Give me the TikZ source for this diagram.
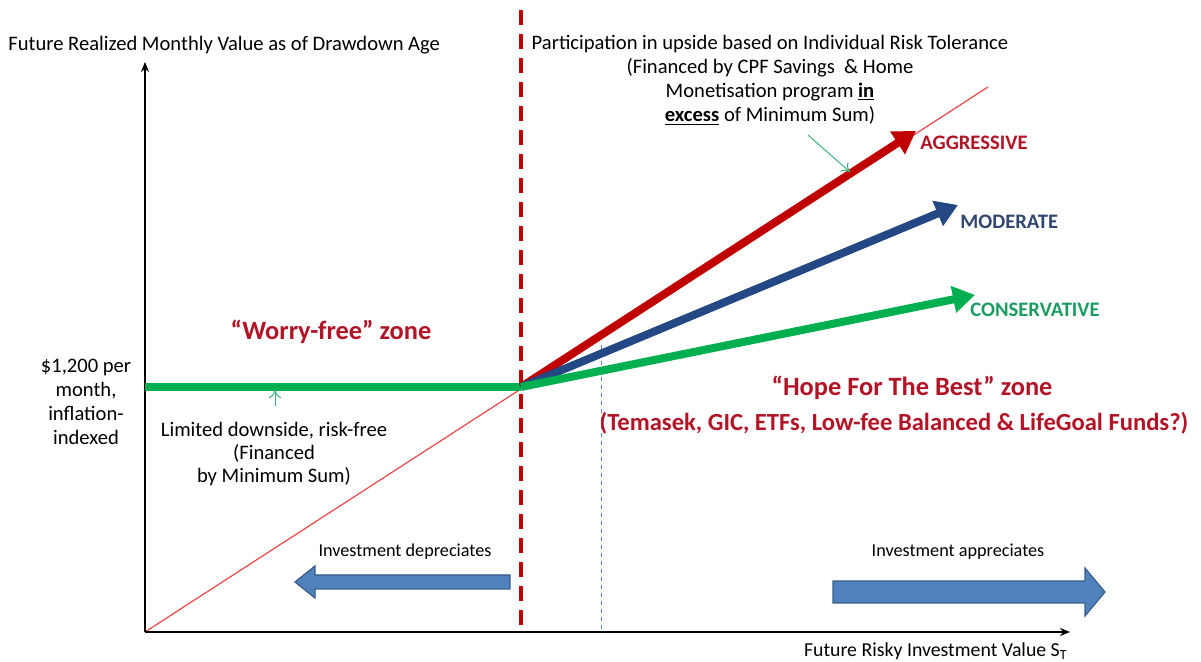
\documentclass[tikz,border=0pt]{standalone}
\usepackage{fontspec}
\setmainfont{Carlito}
\usetikzlibrary{arrows.meta}

\definecolor{zonered}{RGB}{192,0,0}
\definecolor{labelred}{RGB}{178,20,38}
\definecolor{modblue}{RGB}{36,72,132}
\definecolor{modtext}{RGB}{48,70,112}
\definecolor{consgreen}{RGB}{0,176,80}
\definecolor{constext}{RGB}{28,156,96}
\definecolor{blockblue}{RGB}{79,129,189}
\definecolor{blockedge}{RGB}{56,93,138}
\definecolor{guideblue}{RGB}{90,140,215}
\definecolor{diagred}{RGB}{232,72,72}
\definecolor{notegreen}{RGB}{60,180,120}

\begin{document}
\begin{tikzpicture}[x=0.5pt, y=-0.5pt,
  txt/.style = {font=\fontsize{10.3}{12}\selectfont, align=center, inner sep=0pt},
  small/.style = {font=\fontsize{9.1}{11}\selectfont, inner sep=0pt},
  zone/.style = {font=\fontsize{13.2}{16}\selectfont\bfseries, text=labelred, inner sep=0pt},
  tag/.style = {font=\fontsize{10.3}{12}\selectfont\bfseries, anchor=west, inner sep=0pt},
  payoff/.style = {line width=4pt, -{Triangle[length=11pt,width=13pt]}},
  note/.style = {draw=notegreen, line width=0.5pt, -{To[length=4pt,width=6pt]}},
  block/.style = {fill=blockblue, draw=blockedge, line width=0.6pt}]
	\useasboundingbox (0,0) rectangle (1201,662);

	\coordinate (O) at (145,632);
	\coordinate (K) at (521,387);
	\coordinate (floor) at (145,387);

	% axes
	\draw[diagred, line width=0.6pt] (O) -- (988,87);
	\draw[line width=0.6pt, -{Stealth[length=5pt,width=4pt]}] (O) -- (145,62);
	\draw[line width=0.6pt, -{Stealth[length=5pt,width=4pt]}] (O) -- (1070,632);
	\node[txt, anchor=west] (yaxis) at (8,45) {Future Realized Monthly Value as of Drawdown Age};
	\node[txt, anchor=east, font=\fontsize{9.9}{12}\selectfont] (xaxis) at (1068,651) {Future Risky Investment Value S\textsubscript{T}};

	% guides
	\draw[zonered, line width=2pt, dash pattern=on 7.5pt off 4.5pt] (521,10) -- (521,632);
	\draw[guideblue, line width=0.5pt, dash pattern=on 2pt off 2pt] (601,345) -- (601,632);

	% payoff lines
	\draw[consgreen, line width=4pt] (floor) -- (K);
	\coordinate (aggtip) at (916,131);
	\coordinate (modtip) at (958,205);
	\coordinate (contip) at (975,295);
	\draw[payoff, zonered] (K) -- (aggtip);
	\draw[payoff, modblue] (K) -- (modtip);
	\draw[payoff, consgreen] (K) -- (contip);
	\node[tag, text=labelred] (agg) at (920,143) {AGGRESSIVE};
	\node[tag, text=modtext] (mod) at (960,222) {MODERATE};
	\node[tag, text=constext] (con) at (970,310) {CONSERVATIVE};

	% texts
	\node[txt] (floorlbl) at (86,402) {\$1,200 per\\month,\\inflation-\\indexed};
	\node[txt, font=\fontsize{10.3}{11.7}\selectfont] (limited) at (274,454) {Limited downside, risk-free\\(Financed\\by Minimum Sum)};
	\node[txt] (upside) at (770,80) {Participation in upside based on Individual Risk Tolerance\\(Financed by CPF Savings \ \& Home\\Monetisation program \underline{\textbf{in}}\\\underline{\textbf{excess}} of Minimum Sum)};
	\node[zone] (worry) at (331,332) {“Worry-free” zone};
	\node[zone] (hope) at (912,388) {“Hope For The Best” zone};
	\node[zone, font=\fontsize{12.3}{14}\selectfont\bfseries] (funds) at (894,423) {(Temasek, GIC, ETFs, Low-fee Balanced \& LifeGoal Funds?)};

	\coordinate (limtop) at (275,406);
	\draw[note] (limtop) -- (275,390);
	\coordinate (upfoot) at (808,135);
	\draw[note] (upfoot) -- (850,172);

	% direction arrows
	\node[small] (down) at (405,552) {Investment depreciates};
	\node[small] (up) at (958,552) {Investment appreciates};
	\draw[block] (510,575) -- (315,575) -- (315,566) -- (295,582) -- (315,598) -- (315,589) -- (510,589) -- cycle;
	\draw[block] (833,581) -- (1085,581) -- (1085,568) -- (1105,592) -- (1085,616) -- (1085,603) -- (833,603) -- cycle;
\end{tikzpicture}
\end{document}
